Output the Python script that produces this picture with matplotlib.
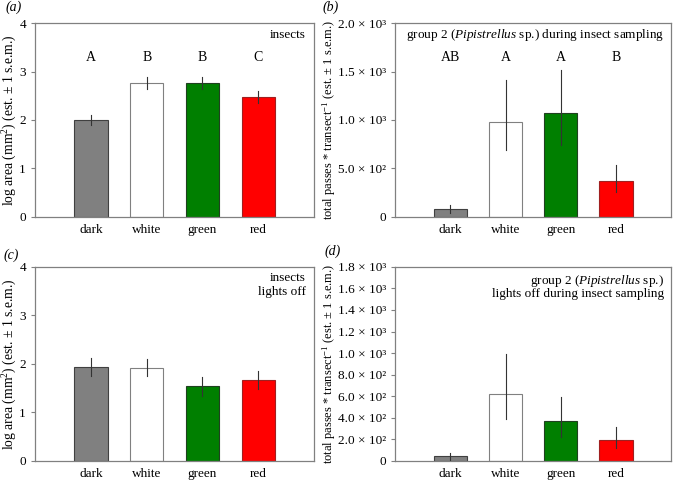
import matplotlib.pyplot as plt
import matplotlib.ticker as mticker
import numpy as np

plt.rcParams['font.family'] = ['Liberation Serif', 'DejaVu Serif']
plt.rcParams['mathtext.fontset'] = 'custom'
plt.rcParams['mathtext.rm'] = 'Liberation Serif'
plt.rcParams['mathtext.it'] = 'Liberation Serif:italic'
plt.rcParams['font.size'] = 9

categories = ['dark', 'white', 'green', 'red']
bar_colors = ['#808080', '#ffffff', '#007f00', '#ff0000']
edge_colors = ['#404040', '#808080', '#204020', '#a02020']

# (a) insects, log area
insects_on = [2.0, 2.76, 2.76, 2.47]
insects_on_lo = [1.89, 2.64, 2.64, 2.35]
insects_on_hi = [2.11, 2.88, 2.88, 2.59]
letters_a = ['A', 'B', 'B', 'C']

# (b) Pipistrellus passes during insect sampling
bats_on = [80, 980, 1068, 370]
bats_on_lo = [45, 688, 746, 258]
bats_on_hi = [122, 1408, 1518, 532]
letters_b = ['AB', 'A', 'A', 'B']

# (c) insects, lights off
insects_off = [1.93, 1.92, 1.54, 1.66]
insects_off_lo = [1.74, 1.74, 1.34, 1.48]
insects_off_hi = [2.12, 2.11, 1.73, 1.85]

# (d) Pipistrellus passes, lights off
bats_off = [40, 621, 366, 196]
bats_off_lo = [8, 388, 223, 115]
bats_off_hi = [70, 990, 590, 317]

sup = {2: '\u00b2', 3: '\u00b3'}


def sci_fmt(v, pos):
    if v == 0:
        return '0'
    exp = int(np.floor(np.log10(v)))
    return '%.1f \u00d7 10%s' % (v / 10 ** exp, sup[exp])


def draw_panel(ax, vals, lo, hi, ymax, ylabel, label_x, label_size):
    x = np.arange(1, len(vals) + 1)
    ax.bar(x, vals, width=0.6, color=bar_colors, edgecolor=edge_colors, linewidth=0.8, zorder=2)
    for xi, l, h in zip(x, lo, hi):
        ax.plot([xi, xi], [l, h], color='#333333', lw=0.8, zorder=3)
    ax.set_xlim(0, 5)
    ax.set_ylim(0, ymax)
    ax.set_xticks(x)
    ax.set_xticklabels(categories)
    ax.tick_params(axis='x', length=0, pad=5, labelsize=9.5)
    ax.tick_params(axis='y', length=3, direction='out', color='#808080', labelsize=9.5)
    for s in ax.spines.values():
        s.set_color('#808080')
        s.set_linewidth(0.9)
    ax.set_ylabel(ylabel, fontsize=label_size)
    ax.yaxis.set_label_coords(label_x, 0.5)


fig = plt.figure(figsize=(6.74, 4.80), dpi=100)
ax_a = fig.add_axes([0.052, 0.548, 0.414, 0.404])
ax_b = fig.add_axes([0.586, 0.548, 0.410, 0.404])
ax_c = fig.add_axes([0.052, 0.040, 0.414, 0.404])
ax_d = fig.add_axes([0.586, 0.040, 0.410, 0.404])

ylab_ins = r'log area (mm$^2$) (est. $\pm$ 1 s.e.m.)'
ylab_bat = r'total passes * transect$^{-1}$ (est. $\pm$ 1 s.e.m.)'

draw_panel(ax_a, insects_on, insects_on_lo, insects_on_hi, 4, ylab_ins, -0.058, 9.8)
ax_a.set_yticks([0, 1, 2, 3, 4])
for xi, t in zip(range(1, 5), letters_a):
    ax_a.text(xi, 3.28, t, ha='center', va='center', fontsize=10)
ax_a.text(0.971, 0.938, 'insects', transform=ax_a.transAxes, ha='right', va='center', fontsize=9.5)

draw_panel(ax_b, bats_on, bats_on_lo, bats_on_hi, 2000, ylab_bat, -0.205, 9)
ax_b.set_yticks([0, 500, 1000, 1500, 2000])
ax_b.yaxis.set_major_formatter(mticker.FuncFormatter(sci_fmt))
for xi, t in zip(range(1, 5), letters_b):
    ax_b.text(xi, 1646, t, ha='center', va='center', fontsize=10)
ax_b.text(0.975, 0.938, r'group 2 ($\mathit{Pipistrellus}$ sp.) during insect sampling',
          transform=ax_b.transAxes, ha='right', va='center', fontsize=9.5)

draw_panel(ax_c, insects_off, insects_off_lo, insects_off_hi, 4, ylab_ins, -0.058, 9.8)
ax_c.set_yticks([0, 1, 2, 3, 4])
ax_c.text(0.971, 0.943, 'insects', transform=ax_c.transAxes, ha='right', va='center', fontsize=9.5)
ax_c.text(0.971, 0.871, 'lights off', transform=ax_c.transAxes, ha='right', va='center', fontsize=9.5)

draw_panel(ax_d, bats_off, bats_off_lo, bats_off_hi, 1800, ylab_bat, -0.205, 9)
ax_d.set_yticks(np.arange(0, 1801, 200))
ax_d.yaxis.set_major_formatter(mticker.FuncFormatter(sci_fmt))
ax_d.text(0.975, 0.928, r'group 2 ($\mathit{Pipistrellus}$ sp.)',
          transform=ax_d.transAxes, ha='right', va='center', fontsize=9.5)
ax_d.text(0.975, 0.861, 'lights off during insect sampling',
          transform=ax_d.transAxes, ha='right', va='center', fontsize=9.5)

fig.text(0.008, 0.985, '(a)', style='italic', fontsize=10, va='center')
fig.text(0.478, 0.985, '(b)', style='italic', fontsize=10, va='center')
fig.text(0.005, 0.468, '(c)', style='italic', fontsize=10, va='center')
fig.text(0.482, 0.476, '(d)', style='italic', fontsize=10, va='center')

fig.savefig('out.png', dpi=100)
